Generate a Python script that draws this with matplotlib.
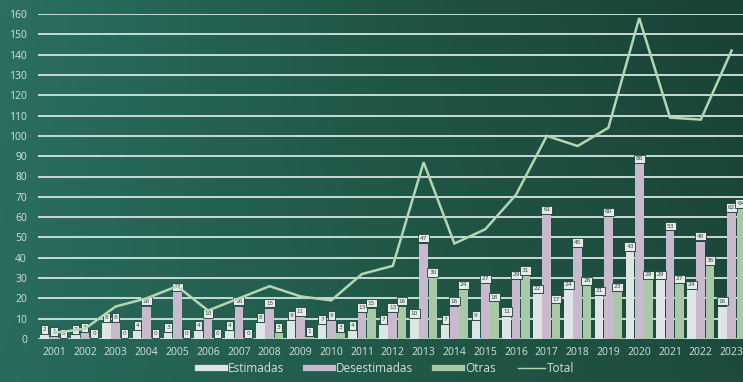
import matplotlib
matplotlib.use("Agg")
import matplotlib.pyplot as plt
import numpy as np
from matplotlib.lines import Line2D
from matplotlib.colors import LinearSegmentedColormap

years = [str(y) for y in range(2001, 2024)]
estimadas =    [2, 2, 8, 4, 3, 4, 4, 8, 9, 7, 4, 7, 10, 7, 9, 11, 22, 24, 21, 43, 29, 24, 16]
desestimadas = [1, 3, 8, 16, 23, 10, 16, 15, 11, 9, 13, 13, 47, 16, 27, 29, 61, 45, 60, 86, 53, 48, 62]
otras =        [0, 0, 0, 0, 0, 0, 0, 3, 1, 3, 15, 16, 30, 24, 18, 31, 17, 26, 23, 29, 27, 36, 64]
total =        [3, 5, 16, 20, 26, 14, 20, 26, 21, 19, 32, 36, 87, 47, 54, 71, 100, 95, 104, 158, 109, 108, 142]

c_est = "#dfe5e4"
c_des = "#c8b9cd"
c_otr = "#a9c9a6"
c_tot = "#b4d6b2"
c_txt = "#d6e2de"
c_grid = "#c9dad5"

W, H = 743, 382
fig = plt.figure(figsize=(W / 100, H / 100), dpi=100)

# gradient background
bg = fig.add_axes([0, 0, 1, 1], zorder=-10)
bg.set_axis_off()
nx, ny = 200, 100
xx, yy = np.meshgrid(np.linspace(0, 1, nx), np.linspace(0, 1, ny))
t = np.clip(0.75 * xx + 0.25 * (1 - yy) * xx + 0.1 * yy * (1 - xx), 0, 1)
cmap = LinearSegmentedColormap.from_list("bg", ["#2b7062", "#205646", "#1a4136"])
bg.imshow(t, cmap=cmap, aspect="auto", extent=[0, 1, 0, 1], origin="upper")

ax = fig.add_axes([38 / W, 43 / H, (W - 38) / W, (339 - 14) / H])
ax.set_facecolor("none")
x = np.arange(len(years))
bw = 0.28
off = 0.30

ax.set_ylim(0, 160)
ax.set_xlim(-0.52, len(years) - 1 + 0.37)
ax.set_yticks(range(0, 161, 10))
ax.set_xticks(x)
ax.set_xticklabels(years)
for yv in range(0, 161, 10):
    ax.axhline(yv, color=c_grid, lw=1.4, zorder=0)
for s in ax.spines.values():
    s.set_visible(False)
ax.tick_params(axis="both", length=0, colors=c_txt, labelsize=7.5)
ax.tick_params(axis="y", pad=8)
ax.tick_params(axis="x", pad=6)
for lab in ax.get_xticklabels() + ax.get_yticklabels():
    lab.set_fontfamily("Open Sans")
    lab.set_color(c_txt)

series = [(estimadas, -off, c_est), (desestimadas, 0, c_des), (otras, off, c_otr)]
for vals, o, col in series:
    ax.bar(x + o, vals, width=bw, color=col, zorder=2, linewidth=0)
    for xi, v in zip(x, vals):
        ax.text(xi + o, v + 1.4, str(v), ha="center", va="bottom", fontsize=4.2,
                color="#3a4a45", zorder=3,
                bbox=dict(boxstyle="square,pad=0.3", fc="#e4ebe8", ec="#1c3f35", lw=0.6))

ax.plot(x, total, color=c_tot, lw=1.8, zorder=4, solid_joinstyle="miter")

handles = [Line2D([0], [0], color=c_est, lw=4.5),
           Line2D([0], [0], color=c_des, lw=4.5),
           Line2D([0], [0], color=c_otr, lw=4.5),
           Line2D([0], [0], color=c_tot, lw=1)]
leg = fig.legend(handles, ["Estimadas", "Desestimadas", "Otras", "Total"], loc="lower center",
                 bbox_to_anchor=(0.52, -0.01), ncol=4, frameon=False,
                 handlelength=2.3, handletextpad=0.2, columnspacing=1.9,
                 prop={"family": "Open Sans", "size": 8.5})
for t_ in leg.get_texts():
    t_.set_color(c_txt)

fig.savefig("out.png", dpi=100)
